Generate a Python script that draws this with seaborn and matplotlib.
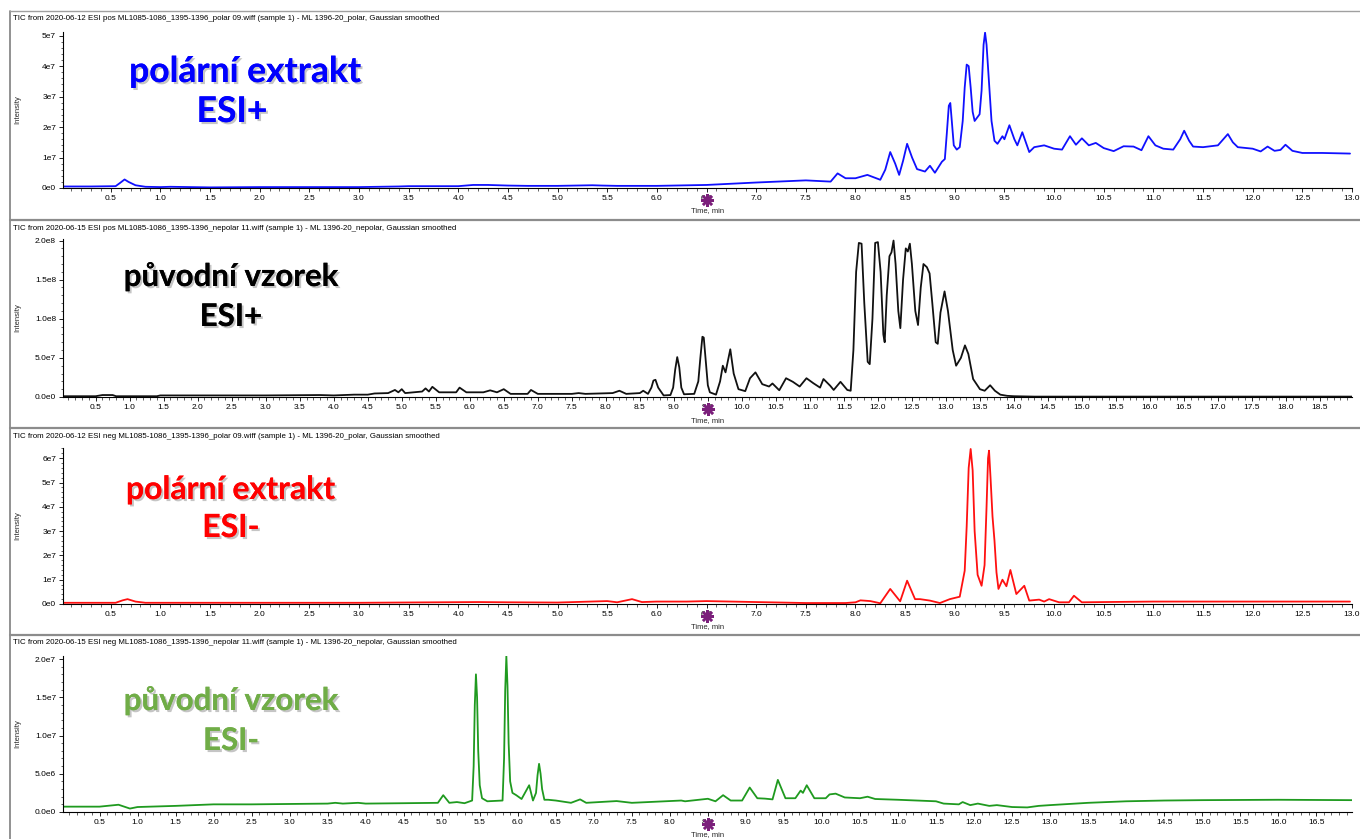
import numpy as np
import matplotlib
matplotlib.use("Agg")
import matplotlib.pyplot as plt
import matplotlib.patheffects as pe
import matplotlib.transforms as mtransforms
from matplotlib.lines import Line2D
from matplotlib.ticker import MultipleLocator, FixedLocator, FormatStrFormatter
import seaborn as sns

# ---- data (time in min, intensity in panel units) ----
# panel 1: polar extract, ESI+  (intensity x 1e7)
t_pos_polar = [0.02, 0.3, 0.55, 0.6, 0.64, 0.68, 0.75, 0.85, 1.0, 1.1, 1.3, 1.5, 2.0, 2.5, 3.0, 3.4, 3.5,
               4.0, 4.15, 4.3, 4.5, 4.7, 5.0, 5.35, 5.45, 5.6, 6.0, 6.5, 7.0, 7.5, 7.75, 7.82, 7.9, 8.0,
               8.12, 8.25, 8.3, 8.35, 8.4, 8.44, 8.48, 8.52, 8.57, 8.62, 8.7, 8.75, 8.8, 8.87, 8.9, 8.92,
               8.94, 8.955, 8.97, 8.99, 9.02, 9.05, 9.08, 9.1, 9.12, 9.14, 9.16, 9.18, 9.2, 9.25, 9.27, 9.29,
               9.305, 9.32, 9.34, 9.37, 9.4, 9.43, 9.48, 9.5,
               9.55, 9.6, 9.63, 9.68, 9.75, 9.8, 9.9, 10.0, 10.08, 10.16, 10.22, 10.28, 10.35, 10.42, 10.5,
               10.6, 10.7, 10.8, 10.88, 10.95, 11.02, 11.1, 11.2, 11.27, 11.31, 11.36, 11.4, 11.5, 11.65,
               11.75, 11.8, 11.85, 12.0, 12.08, 12.15, 12.22, 12.28, 12.33, 12.4, 12.5, 12.7, 12.98]
i_pos_polar = [0.05, 0.05, 0.06, 0.18, 0.28, 0.2, 0.09, 0.04, 0.03, 0.04, 0.03, 0.02, 0.03, 0.03, 0.03, 0.05, 0.06,
               0.06, 0.1, 0.1, 0.08, 0.07, 0.07, 0.09, 0.08, 0.07, 0.07, 0.1, 0.18, 0.25, 0.21, 0.48, 0.32, 0.32,
               0.43, 0.27, 0.6, 1.18, 0.8, 0.43, 0.9, 1.45, 1.0, 0.62, 0.54, 0.73, 0.5, 0.86, 0.95, 1.8,
               2.7, 2.79, 2.2, 1.4, 1.26, 1.34, 2.2, 3.3, 4.05, 4.0, 3.3, 2.5, 2.2, 2.42, 3.2, 4.7,
               5.1, 4.7, 3.7, 2.2, 1.55, 1.45, 1.7, 1.6,
               2.06, 1.6, 1.4, 1.83, 1.18, 1.34, 1.4, 1.29, 1.26, 1.7, 1.42, 1.63, 1.4, 1.48, 1.31,
               1.21, 1.37, 1.36, 1.24, 1.7, 1.4, 1.29, 1.26, 1.6, 1.88, 1.55, 1.36, 1.34, 1.4,
               1.77, 1.5, 1.34, 1.29, 1.2, 1.36, 1.22, 1.25, 1.42, 1.22, 1.15, 1.15, 1.13]

# panel 2: original sample, ESI+  (intensity x 1e7)
t_pos_orig = [0.02, 0.5, 0.6, 0.75, 0.8, 1.4, 1.45, 3.0, 3.8, 4.0, 4.3, 4.5, 4.6, 4.8, 4.9, 4.95, 5.0, 5.05,
              5.3, 5.35, 5.4, 5.45, 5.55, 5.8, 5.85, 5.95, 6.2, 6.3, 6.4, 6.5, 6.6, 6.85, 6.9, 7.0, 7.5, 7.6,
              7.7, 8.1, 8.2, 8.3, 8.5, 8.55, 8.62, 8.67, 8.7, 8.73, 8.77, 8.85, 8.95, 8.99, 9.02, 9.05, 9.08,
              9.11, 9.15, 9.3, 9.36, 9.39, 9.42, 9.44, 9.47, 9.5, 9.53, 9.62, 9.68, 9.72, 9.76, 9.83, 9.88,
              9.95, 10.05, 10.12, 10.2, 10.3,
              10.4, 10.45, 10.55, 10.65, 10.75, 10.85, 10.95, 11.05, 11.15, 11.2, 11.3, 11.35, 11.45, 11.55,
              11.6, 11.64, 11.68, 11.72, 11.76, 11.8, 11.85, 11.88, 11.92, 11.96, 12.0, 12.04, 12.08, 12.1,
              12.13, 12.17, 12.2, 12.23, 12.26, 12.3, 12.33, 12.37, 12.41, 12.44, 12.47, 12.5, 12.55, 12.59,
              12.63, 12.67, 12.72, 12.76, 12.8, 12.85, 12.88, 12.92, 12.98, 13.03, 13.1, 13.15, 13.22, 13.28,
              13.33, 13.4, 13.5, 13.57, 13.65, 13.72, 13.8, 13.9, 14.0, 14.3, 15.0, 16.0, 17.0, 18.0, 18.97]
i_pos_orig = [0.1, 0.1, 0.25, 0.25, 0.1, 0.1, 0.2, 0.2, 0.25, 0.2, 0.3, 0.3, 0.45, 0.5, 0.9, 0.6, 1.0, 0.5,
              0.7, 1.1, 0.7, 1.3, 0.6, 0.6, 1.2, 0.6, 0.6, 0.85, 0.6, 1.0, 0.4, 0.4, 0.9, 0.4, 0.4, 0.5,
              0.4, 0.5, 0.8, 0.4, 0.5, 0.8, 0.4, 1.2, 2.1, 2.2, 1.2, 0.2, 0.25, 1.2, 3.5, 5.1, 3.8,
              1.2, 0.35, 0.4, 2.0, 5.0, 7.7, 7.6, 4.5, 1.5, 0.6, 0.3, 2.0, 4.0, 3.15, 6.1, 3.0,
              1.0, 0.75, 2.4, 3.15, 1.64,
              1.34, 1.73, 0.86, 2.4, 1.94, 1.34, 2.4, 1.77, 1.2, 2.3, 1.43, 0.9, 1.94, 0.9,
              0.8, 6.0, 16.0, 19.7, 19.6, 12.0, 4.5, 4.2, 10.0, 19.7, 19.8, 16.0, 8.0, 7.0,
              13.0, 18.0, 18.5, 20.0, 17.0, 11.0, 8.8, 15.0, 19.0, 18.6, 19.6, 17.0, 11.0, 9.2,
              14.0, 17.0, 16.6, 15.8, 12.0, 7.0, 6.8, 10.8, 13.5, 11.0, 6.0, 4.0, 5.0, 6.6,
              5.5, 2.3, 1.0, 0.8, 1.5, 0.8, 0.3, 0.15, 0.1, 0.05, 0.05, 0.05, 0.05, 0.05, 0.05]

# panel 3: polar extract, ESI-  (intensity x 1e7)
t_neg_polar = [0.02, 0.55, 0.62, 0.67, 0.75, 0.85, 1.5, 3.0, 4.2, 4.5, 5.0, 5.5, 5.6, 5.75, 5.85, 6.0, 6.3,
               6.5, 7.0, 7.5, 7.9, 8.0, 8.05, 8.15, 8.25, 8.35, 8.45, 8.52, 8.6, 8.65, 8.75, 8.85, 8.95,
               9.05, 9.1, 9.12, 9.14, 9.16, 9.18, 9.2, 9.23, 9.27, 9.3, 9.32, 9.335, 9.345, 9.36, 9.38, 9.4,
               9.42, 9.44, 9.48, 9.52, 9.56,
               9.62, 9.7, 9.75, 9.85, 9.9, 9.95, 10.05, 10.15, 10.2, 10.28, 10.5, 11.0, 12.0, 12.98]
i_neg_polar = [0.05, 0.05, 0.15, 0.2, 0.1, 0.05, 0.05, 0.05, 0.08, 0.07, 0.06, 0.12, 0.07, 0.2, 0.08, 0.1, 0.1,
               0.12, 0.08, 0.04, 0.04, 0.07, 0.15, 0.12, 0.03, 0.62, 0.11, 0.96, 0.2, 0.2, 0.14, 0.04, 0.2,
               0.3, 1.37, 3.2, 5.6, 6.38, 5.5, 3.0, 1.2, 0.75, 1.6, 4.0, 6.0, 6.31, 5.2, 3.6, 2.6,
               1.3, 0.62, 1.0, 0.73, 1.4,
               0.41, 0.75, 0.14, 0.18, 0.1, 0.2, 0.07, 0.07, 0.34, 0.07, 0.08, 0.1, 0.1, 0.1]

# panel 4: original sample, ESI-  (intensity x 1e6)
t_neg_orig = [0.02, 0.5, 0.75, 0.9, 1.0, 1.5, 2.0, 2.5, 3.0, 3.5, 3.6, 3.7, 3.9, 4.0, 4.5, 4.95, 5.02, 5.1,
              5.2, 5.3, 5.4, 5.42, 5.435, 5.45, 5.465, 5.48, 5.5, 5.53, 5.6, 5.8, 5.82, 5.835, 5.85, 5.865,
              5.88, 5.9, 5.93, 5.98, 6.05, 6.15,
              6.2, 6.24, 6.26, 6.28, 6.3, 6.32, 6.35, 6.4, 6.5, 6.7, 6.82, 6.9, 7.3, 7.5, 8.15, 8.2, 8.5, 8.6, 8.7,
              8.8, 8.95, 9.05, 9.15, 9.25, 9.35, 9.42, 9.52, 9.65, 9.72, 9.75, 9.8, 9.9, 10.05, 10.1, 10.18,
              10.3, 10.5, 10.6, 10.7, 11.0, 11.5, 11.6, 11.8, 11.85, 11.95, 12.05, 12.2, 12.3, 12.5, 12.7,
              12.85, 13.0, 13.5, 14.0, 14.5, 15.0, 16.0, 16.97]
i_neg_orig = [0.7, 0.7, 0.95, 0.45, 0.65, 0.8, 1.0, 1.0, 1.05, 1.1, 1.2, 1.1, 1.2, 1.1, 1.15, 1.2, 2.2, 1.2,
              1.3, 1.15, 1.5, 6.0, 14.0, 18.0, 15.0, 8.0, 3.5, 1.8, 1.4, 1.5, 7.0, 16.0, 20.4, 16.5,
              9.0, 4.0, 2.5, 2.2, 1.7, 3.5,
              1.5, 2.5, 4.8, 6.3, 5.0, 3.0, 1.6, 1.6, 1.5, 1.2, 1.65, 1.2, 1.43, 1.2, 1.5, 1.4, 1.73, 1.4, 2.2,
              1.5, 1.5, 3.2, 1.8, 1.75, 1.65, 4.2, 1.8, 1.8, 2.8, 2.5, 3.5, 1.8, 1.8, 2.3, 2.4,
              1.9, 1.8, 2.0, 1.7, 1.6, 1.4, 1.1, 1.0, 1.3, 0.9, 1.1, 0.8, 0.9, 0.65, 0.6,
              0.8, 0.9, 1.2, 1.4, 1.5, 1.55, 1.6, 1.55]

headers = [
    "TIC from 2020-06-12 ESI pos ML1085-1086_1395-1396_polar 09.wiff (sample 1) - ML 1396-20_polar, Gaussian smoothed",
    "TIC from 2020-06-15 ESI pos ML1085-1086_1395-1396_nepolar 11.wiff (sample 1) - ML 1396-20_nepolar, Gaussian smoothed",
    "TIC from 2020-06-12 ESI neg ML1085-1086_1395-1396_polar 09.wiff (sample 1) - ML 1396-20_polar, Gaussian smoothed",
    "TIC from 2020-06-15 ESI neg ML1085-1086_1395-1396_nepolar 11.wiff (sample 1) - ML 1396-20_nepolar, Gaussian smoothed",
]
titles = [("polární extrakt", "ESI+"), ("původní vzorek", "ESI+"),
          ("polární extrakt", "ESI-"), ("původní vzorek", "ESI-")]
yticks_1 = [0, 1e7, 2e7, 3e7, 4e7, 5e7]
ylabels_1 = ["0e0", "1e7", "2e7", "3e7", "4e7", "5e7"]
yticks_2 = [0, 5e7, 1e8, 1.5e8, 2e8]
ylabels_2 = ["0.0e0", "5.0e7", "1.0e8", "1.5e8", "2.0e8"]
yticks_3 = [0, 1e7, 2e7, 3e7, 4e7, 5e7, 6e7]
ylabels_3 = ["0e0", "1e7", "2e7", "3e7", "4e7", "5e7", "6e7"]
yticks_4 = [0, 5e6, 1e7, 1.5e7, 2e7]
ylabels_4 = ["0.0e0", "5.0e6", "1.0e7", "1.5e7", "2.0e7"]

sns.set_style("ticks")
plt.rcParams['font.family'] = ['Liberation Sans', 'DejaVu Sans']

W, H = 1360, 839
fig = plt.figure(figsize=(W / 100, H / 100), dpi=100)

# panel geometry in pixels: (top, bottom) of the plot area
rows = [(32, 188), (239, 397), (448, 604), (656, 812)]
header_y = [19, 228, 436, 643]
sep_y = [220, 428, 635]
ax_left, ax_right = 63, 1352

panels = [
    dict(t=t_pos_polar, i=i_pos_polar, scale=1e7, color="#1010ff", ymax=5.12e7, yt=yticks_1, yl=ylabels_1,
         ymin_step=2e6, xmax=13.0, star=6.5, tcol="#0000ff", tsize=25.5, tx=(245, 232), ty=(82, 122)),
    dict(t=t_pos_orig, i=i_pos_orig, scale=1e7, color="#111111", ymax=2.02e8, yt=yticks_2, yl=ylabels_2,
         ymin_step=1e7, xmax=18.97, star=9.5, tcol="#000000", tsize=22.5, tx=(231, 231), ty=(286, 326)),
    dict(t=t_neg_polar, i=i_neg_polar, scale=1e7, color="#ff1010", ymax=6.42e7, yt=yticks_3, yl=ylabels_3,
         ymin_step=2e6, xmax=13.0, star=6.5, tcol="#ff0000", tsize=23.0, tx=(231, 231), ty=(499, 537)),
    dict(t=t_neg_orig, i=i_neg_orig, scale=1e6, color="#1f9a1f", ymax=2.04e7, yt=yticks_4, yl=ylabels_4,
         ymin_step=1e6, xmax=16.97, star=8.5, tcol="#70ad47", tsize=22.5, tx=(231, 231), ty=(710, 750)),
]

for k, p in enumerate(panels):
    top, bot = rows[k]
    ax = fig.add_axes([ax_left / W, 1 - bot / H, (ax_right - ax_left) / W, (bot - top) / H])
    ax.set_facecolor("white")
    sns.lineplot(x=np.array(p["t"]), y=np.array(p["i"]) * p["scale"], ax=ax, color=p["color"],
                 linewidth=1.3, sort=False, errorbar=None)
    ax.set_xlim(0.02, p["xmax"])
    ax.set_ylim(0, p["ymax"])

    # axes look like the MS software: only left/bottom lines, small outward ticks
    sns.despine(ax=ax)
    for s in ["left", "bottom"]:
        ax.spines[s].set_color("black")
        ax.spines[s].set_linewidth(0.8)
    ax.xaxis.set_major_locator(MultipleLocator(0.5))
    ax.xaxis.set_minor_locator(MultipleLocator(0.1))
    ax.xaxis.set_major_formatter(FormatStrFormatter("%.1f"))
    ax.yaxis.set_major_locator(FixedLocator(p["yt"]))
    ax.set_yticklabels(p["yl"])
    ax.yaxis.set_minor_locator(MultipleLocator(p["ymin_step"]))
    ax.tick_params(axis="both", which="major", direction="out", length=3, width=0.6,
                   labelsize=6, pad=2, colors="black")
    ax.tick_params(axis="both", which="minor", direction="out", length=1.8, width=0.5)
    ax.set_xlabel("Time, min", fontsize=5.5)
    ax.set_ylabel("Intensity", fontsize=5.5)
    ax.xaxis.set_label_coords(0.5, -0.125)
    ax.yaxis.set_label_coords(-42 / (ax_right - ax_left), 0.5)

    # purple marker on the time axis
    trans = mtransforms.blended_transform_factory(ax.transData, ax.transAxes)
    ax.plot([p["star"]], [-0.075], transform=trans, marker=(8, 2, 0), markersize=9, mew=1.8,
            color="#7b1f7b", clip_on=False, zorder=10)

    # header line
    fig.text(13 / W, 1 - header_y[k] / H, headers[k], fontsize=5.7, ha="left", va="center", color="black")

    # big coloured annotation with shadow
    shadow = [pe.withSimplePatchShadow(offset=(1.5, -1.5), shadow_rgbFace="#808080", alpha=0.45), pe.Normal()]
    for j in range(2):
        fig.text(p["tx"][j] / W, 1 - p["ty"][j] / H, titles[k][j], fontsize=p["tsize"], fontweight="bold",
                 family=["Lato", "DejaVu Sans"], color=p["tcol"], ha="center", va="baseline",
                 path_effects=shadow)

# frame / separator lines of the screenshot
fig.add_artist(Line2D([10 / W, 10 / W], [0, 1 - 11 / H], color="#7f7f7f", lw=1.2))
fig.add_artist(Line2D([10 / W, 1], [1 - 11 / H, 1 - 11 / H], color="#a0a0a0", lw=1.0))
for y in sep_y:
    fig.add_artist(Line2D([10 / W, 1], [1 - y / H, 1 - y / H], color="#8c8c8c", lw=1.6))

fig.savefig("out.png", dpi=100, facecolor="white")
